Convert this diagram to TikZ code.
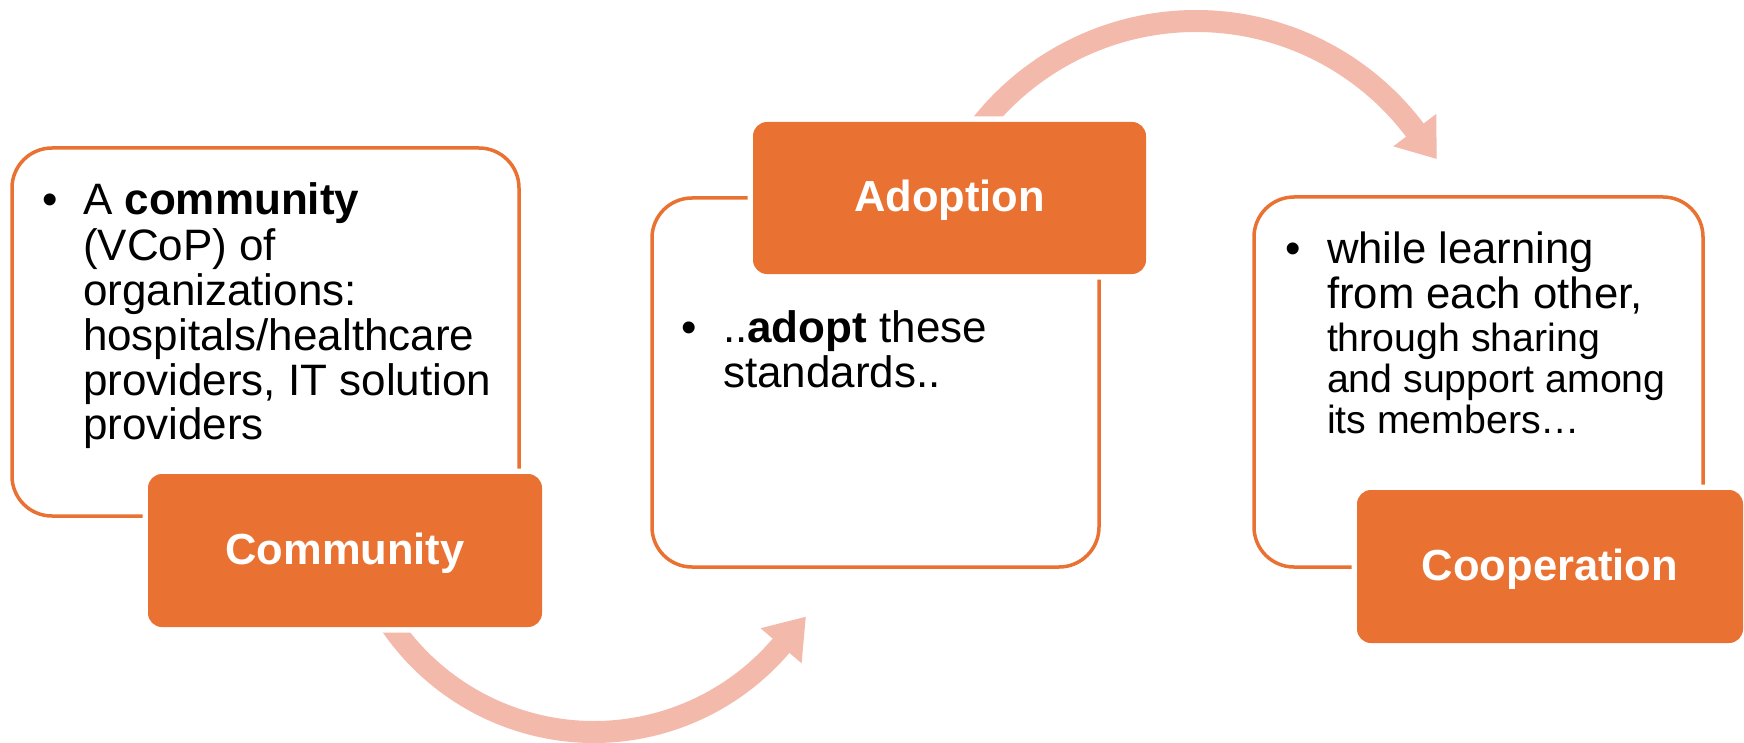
\documentclass[tikz,border=0pt]{standalone}
\usepackage{fontspec}
\setmainfont{Liberation Sans}
\definecolor{accent}{HTML}{E97132}
\definecolor{flow}{HTML}{F3B9AB}

\begin{document}
\begin{tikzpicture}[x=1pt, y=-1pt,
  panel/.style={draw=accent, line width=3.5pt, fill=white, rounded corners=40pt,
    inner sep=0pt, outer sep=0pt},
  tag/.style={fill=accent, rounded corners=14pt, inner sep=0pt, outer sep=0pt,
    text=white, font=\fontsize{43.5}{50}\selectfont\bfseries,
    text height=31pt, text depth=3pt,
    preaction={draw=white, line width=11pt}},
  bodytext/.style={anchor=base west, inner sep=0pt, outer sep=0pt},
  dot/.style={anchor=base, inner sep=0pt, outer sep=0pt, font=\fontsize{44}{45}\selectfont},
  flowband/.style={draw=flow, line width=22pt},
  flowhead/.style={fill=flow}
]
\useasboundingbox (0,0) rectangle (1744,743);

% centres of the two curved flow arrows
\coordinate (lowc) at (594,486);
\coordinate (highc) at (1196,295);

% lower arrow: Community -> Adoption
\draw[flowband] ([shift={(150:246)}]lowc) arc[start angle=150, end angle=39.5, radius=246];
\fill[flowhead] ([shift={(40.5:219)}]lowc) -- ([shift={(31.7:248.9)}]lowc)
  -- ([shift={(40.5:273)}]lowc) -- cycle;

% upper arrow: Adoption -> Cooperation
\draw[flowband] ([shift={(-145:274)}]highc) arc[start angle=-145, end angle=-36.5, radius=274];
\fill[flowhead] ([shift={(-37:247)}]highc) -- ([shift={(-29.5:276.4)}]highc)
  -- ([shift={(-37:301)}]highc) -- cycle;

% white text panels
\node[panel, minimum width=507pt, minimum height=368pt] (p1) at (265.5,332) {};
\node[panel, minimum width=447pt, minimum height=369pt] (p2) at (875.5,382.5) {};
\node[panel, minimum width=449pt, minimum height=370pt] (p3) at (1478.5,382) {};

% orange title tags
\node[tag, minimum width=394pt, minimum height=153pt] (community) at (345,550.5) {Community};
\node[tag, minimum width=393pt, minimum height=152pt] (adoption) at (949.5,198) {Adoption};
\node[tag, minimum width=386pt, minimum height=153pt] (cooperation) at (1550,566.5) {Cooperation};

% bullet texts
\node[dot] (b1) at (50,215) {•};
\node[bodytext] (t1) at (83,215) {\parbox[t]{430pt}{\raggedright\fontsize{44}{45}\selectfont
  A \textbf{community}\\(VCoP) of\\organizations:\\hospitals/healthcare\\providers, IT solution\\providers}};

\node[dot] (b2) at (689,342) {•};
\node[bodytext] (t2) at (723,342) {\parbox[t]{360pt}{\raggedright\fontsize{44}{45}\selectfont
  ..\textbf{adopt} these\\standards..}};

\node[dot] (b3) at (1293,263) {•};
\node[bodytext] (t3) at (1327,263) {\parbox[t]{370pt}{\raggedright\fontsize{43.7}{45}\selectfont
  while learning\\from each other,\par\vspace{3.5pt}%
  \fontsize{39.3}{40.5}\selectfont through sharing\\and support among\\its members…}};
\end{tikzpicture}
\end{document}
